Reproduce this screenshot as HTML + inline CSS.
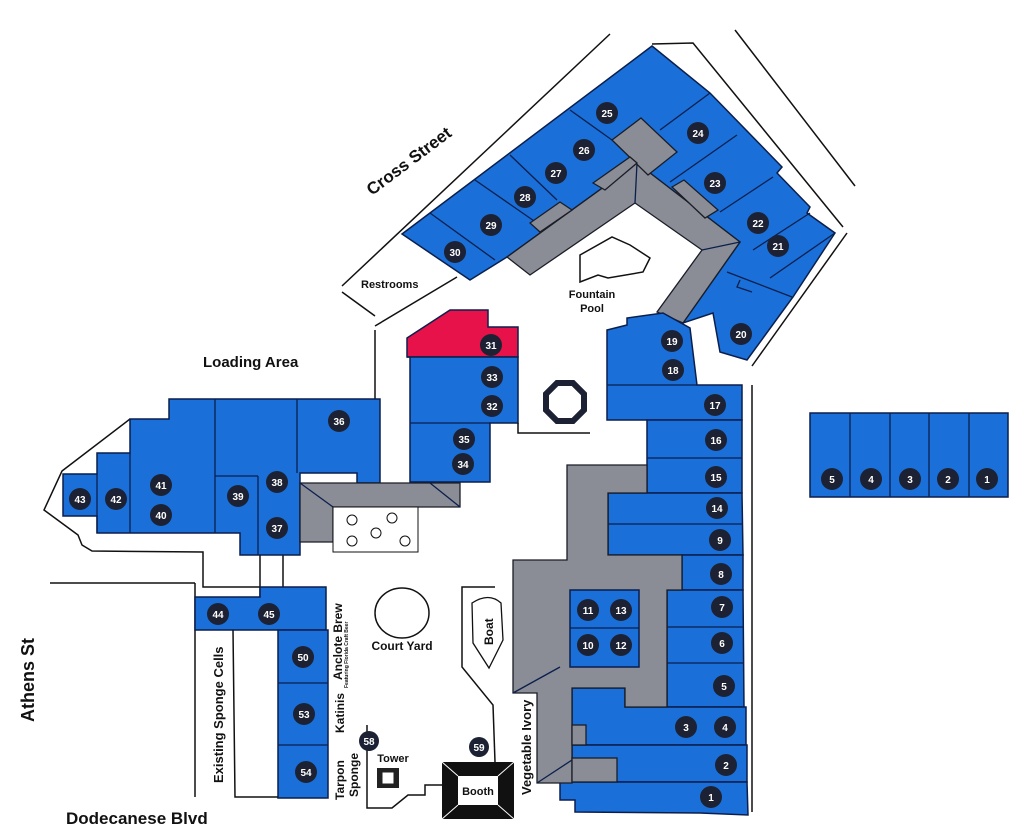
<!DOCTYPE html>
<html><head><meta charset="utf-8"><style>
html,body{margin:0;padding:0;background:#fff;}
svg{display:block;}
text{font-family:"Liberation Sans",Arial,sans-serif;font-weight:bold;}
.b{fill:#1a6fd8;stroke:#0b1f4d;stroke-width:1.5;}
.g{fill:#8a8d96;stroke:#1a1d26;stroke-width:1.3;}
.l{stroke:#0b1f4d;stroke-width:1.3;fill:none;}
.k{stroke:#111;stroke-width:1.5;fill:none;}
.n circle{fill:#1c2233;}
.n text{fill:#fff;font-size:10px;text-anchor:middle;}
</style></head><body>
<svg width="1024" height="838" viewBox="0 0 1024 838" xmlns="http://www.w3.org/2000/svg">
<rect width="1024" height="838" fill="#fff"/>
<!-- street lines -->
<line class="k" x1="342" y1="286" x2="610" y2="34"/>
<line class="k" x1="735" y1="30" x2="855" y2="186"/>
<polyline class="k" points="652,44 693,43 843,227"/>
<line class="k" x1="847" y1="233" x2="752" y2="366"/>
<polyline class="k" points="342,292 375,316"/>
<line class="k" x1="375" y1="326" x2="457" y2="277"/>
<line class="k" x1="752" y1="385" x2="752" y2="812"/>
<polyline class="k" points="375,330 375,480"/>
<!-- top building -->
<polygon class="b" points="402,234 652,46 710,93 782,167 777,173 810,207 807,213 835,233 793,297 747,360 720,352 713,313 683,323 740,242 637,163 507,257 470,280"/>
<g class="l">
<line x1="430" y1="213" x2="495" y2="260"/>
<line x1="475" y1="180" x2="537" y2="223"/>
<line x1="510" y1="155" x2="557" y2="200"/>
<line x1="570" y1="110" x2="612" y2="140"/>
<line x1="660" y1="130" x2="710" y2="93"/>
<line x1="737" y1="135" x2="670" y2="182"/>
<line x1="773" y1="177" x2="720" y2="212"/>
<line x1="810" y1="213" x2="753" y2="250"/>
<line x1="835" y1="233" x2="770" y2="278"/>
<line x1="727" y1="272" x2="792" y2="297"/>
<polyline points="740,280 737,287 752,292"/>
</g>
<polygon class="g" points="637,163 740,242 683,323 657,312 702,250 635,203 530,275 507,257"/>
<line class="l" x1="637" y1="163" x2="635" y2="203"/>
<line class="l" x1="702" y1="250" x2="740" y2="242"/>
<polygon class="g" points="612,140 641,118 677,152 648,175"/>
<polygon class="g" points="593,183 630,157 637,163 605,190"/>
<polygon class="g" points="530,223 560,202 572,210 540,232"/>
<polygon class="g" points="672,187 684,180 718,210 705,218"/>
<polygon class="k" points="580,255 612,237 630,245 650,258 643,272 608,278 598,275 580,282"/>
<!-- 19/18 -->
<polygon class="b" points="607,330 627,325 627,318 663,313 690,328 697,385 742,385 742,420 607,420"/>
<line class="l" x1="607" y1="385" x2="697" y2="385"/>
<!-- 31-35 -->
<polygon points="407,338 450,310 488,310 488,327 518,327 518,357 407,357" fill="#e8124a" stroke="#0b1f4d" stroke-width="1.5"/>
<polygon class="b" points="407,357 518,357 518,423 490,423 490,482 410,482 410,357"/>
<line class="l" x1="410" y1="423" x2="490" y2="423"/>
<polyline class="k" points="518,423 518,433 590,433"/>
<polygon points="557,383 573,383 584,394 584,410 573,421 557,421 546,410 546,394" fill="none" stroke="#1c2233" stroke-width="6"/>
<!-- right column -->
<polygon class="b" points="647,420 742,420 742,493 647,493"/>
<line class="l" x1="647" y1="458" x2="742" y2="458"/>
<polygon class="b" points="608,493 742,493 743,555 608,555"/>
<line class="l" x1="608" y1="524" x2="742" y2="524"/>
<rect class="b" x="682" y="555" width="61" height="35"/>
<polygon class="b" points="667,590 743,590 744,707 667,707"/>
<line class="l" x1="667" y1="627" x2="743" y2="627"/>
<line class="l" x1="667" y1="663" x2="743" y2="663"/>
<polygon class="b" points="572,688 625,688 625,707 746,707 746,745 572,745"/>
<rect class="b" x="572" y="745" width="175" height="37"/>
<polygon class="b" points="560,782 747,782 748,815 700,813 575,812 575,800 560,800"/>
<polygon class="g" points="567,465 647,465 647,493 608,493 608,555 682,555 682,590 667,590 667,707 625,707 625,688 572,688 572,783 537,783 537,693 513,693 513,560 567,560"/>
<line class="l" x1="513" y1="693" x2="560" y2="667"/>
<line class="l" x1="537" y1="783" x2="572" y2="760"/>
<rect class="g" x="572" y="725" width="14" height="20"/>
<rect class="g" x="572" y="758" width="45" height="24"/>
<rect class="b" x="570" y="590" width="69" height="77"/>
<line class="l" x1="570" y1="628" x2="639" y2="628"/>
<!-- right stores -->
<rect class="b" x="810" y="413" width="198" height="84"/>
<g class="l"><line x1="850" y1="413" x2="850" y2="497"/><line x1="890" y1="413" x2="890" y2="497"/><line x1="929" y1="413" x2="929" y2="497"/><line x1="969" y1="413" x2="969" y2="497"/></g>
<!-- left complex outline -->
<polyline class="k" points="130,419 62,471 44,510 78,535 82,545 92,551 203,552 203,587 260,587"/>
<line class="k" x1="260" y1="555" x2="260" y2="597"/>
<line class="k" x1="283" y1="555" x2="283" y2="587"/>
<polygon class="b" points="169,399 380,399 380,483 357,483 357,473 300,473 300,555 240,555 240,533 97,533 97,516 63,516 63,474 97,474 97,453 130,453 130,419 169,419"/>
<g class="l">
<line x1="215" y1="399" x2="215" y2="533"/>
<line x1="258" y1="476" x2="258" y2="555"/>
<line x1="215" y1="476" x2="258" y2="476"/>
<line x1="297" y1="399" x2="297" y2="473"/>
<line x1="130" y1="453" x2="130" y2="533"/>
<line x1="97" y1="474" x2="97" y2="533"/>
</g>
<polygon class="g" points="300,483 460,483 460,507 333,507 333,542 300,542"/>
<line class="l" x1="300" y1="483" x2="333" y2="507"/>
<line class="l" x1="430" y1="483" x2="460" y2="507"/>
<rect x="333" y="507" width="85" height="45" fill="#fff" stroke="#111" stroke-width="1"/>
<g fill="none" stroke="#111" stroke-width="1">
<circle cx="352" cy="520" r="5"/><circle cx="392" cy="518" r="5"/><circle cx="376" cy="533" r="5"/><circle cx="352" cy="541" r="5"/><circle cx="405" cy="541" r="5"/>
</g>
<!-- 44-54 -->
<line class="k" x1="50" y1="583" x2="195" y2="583"/>
<polyline class="k" points="195,583 195,797"/>
<polygon class="b" points="195,597 260,597 260,587 326,587 326,630 195,630"/>
<rect class="b" x="278" y="630" width="50" height="168"/>
<line class="l" x1="278" y1="683" x2="328" y2="683"/>
<line class="l" x1="278" y1="745" x2="328" y2="745"/>
<polyline class="k" points="233,630 235,797 278,797"/>
<!-- courtyard etc -->
<ellipse cx="402" cy="613" rx="27" ry="25" fill="none" stroke="#111" stroke-width="1.5"/>
<polyline class="k" points="495,587 462,587 462,667 493,705 495,762"/>
<path d="M472,603 Q489,592 501,603 L503,640 L489,668 L473,643 Z" fill="none" stroke="#111" stroke-width="1.3"/>
<polyline class="k" points="367,725 367,808 392,808 408,795 425,795 425,785 442,785"/>
<rect x="377" y="768" width="22" height="20" fill="#222"/><rect x="382" y="772" width="12" height="12" fill="#fff" stroke="#222"/>
<rect x="442" y="762" width="72" height="57" fill="#111"/>
<rect x="458" y="776" width="40" height="29" fill="#fff"/>
<g stroke="#fff" stroke-width="1"><line x1="442" y1="762" x2="458" y2="776"/><line x1="514" y1="762" x2="498" y2="776"/><line x1="442" y1="819" x2="458" y2="805"/><line x1="514" y1="819" x2="498" y2="805"/></g>
<!-- labels -->
<text x="0" y="0" font-size="17" fill="#111" transform="translate(372,196) rotate(-37)">Cross Street</text>
<text x="361" y="288" font-size="11" fill="#111">Restrooms</text>
<text x="592" y="298" font-size="11" fill="#111" text-anchor="middle">Fountain</text>
<text x="592" y="312" font-size="11" fill="#111" text-anchor="middle">Pool</text>
<text x="203" y="367" font-size="15" fill="#111">Loading Area</text>
<text font-size="18" fill="#111" transform="translate(34,722) rotate(-90)">Athens St</text>
<text x="66" y="824" font-size="17" fill="#111">Dodecanese Blvd</text>
<text x="402" y="650" font-size="12" fill="#111" text-anchor="middle">Court Yard</text>
<text font-size="12" fill="#111" transform="translate(493,645) rotate(-90)">Boat</text>
<text font-size="13" fill="#111" transform="translate(223,783) rotate(-90)">Existing Sponge Cells</text>
<text font-size="12" fill="#111" transform="translate(342,680) rotate(-90)">Anclote Brew</text>
<text font-size="5" fill="#111" transform="translate(348,688) rotate(-90)">Featuring Florida Craft Beer</text>
<text font-size="12" fill="#111" transform="translate(344,733) rotate(-90)">Katinis</text>
<text font-size="12" fill="#111" transform="translate(344,800) rotate(-90)">Tarpon</text>
<text font-size="12" fill="#111" transform="translate(358,797) rotate(-90)">Sponge</text>
<text x="393" y="762" font-size="11" fill="#111" text-anchor="middle">Tower</text>
<text x="478" y="795" font-size="11" fill="#111" text-anchor="middle">Booth</text>
<text font-size="13" fill="#111" transform="translate(531,795) rotate(-90)">Vegetable Ivory</text>
<!-- number badges -->
<g class="n">
<circle cx="607" cy="113" r="11"/><text x="607" y="117">25</text>
<circle cx="584" cy="150" r="11"/><text x="584" y="154">26</text>
<circle cx="556" cy="173" r="11"/><text x="556" y="177">27</text>
<circle cx="525" cy="197" r="11"/><text x="525" y="201">28</text>
<circle cx="491" cy="225" r="11"/><text x="491" y="229">29</text>
<circle cx="455" cy="252" r="11"/><text x="455" y="256">30</text>
<circle cx="698" cy="133" r="11"/><text x="698" y="137">24</text>
<circle cx="715" cy="183" r="11"/><text x="715" y="187">23</text>
<circle cx="758" cy="223" r="11"/><text x="758" y="227">22</text>
<circle cx="778" cy="246" r="11"/><text x="778" y="250">21</text>
<circle cx="741" cy="334" r="11"/><text x="741" y="338">20</text>
<circle cx="672" cy="341" r="11"/><text x="672" y="345">19</text>
<circle cx="673" cy="370" r="11"/><text x="673" y="374">18</text>
<circle cx="715" cy="405" r="11"/><text x="715" y="409">17</text>
<circle cx="716" cy="440" r="11"/><text x="716" y="444">16</text>
<circle cx="716" cy="477" r="11"/><text x="716" y="481">15</text>
<circle cx="717" cy="508" r="11"/><text x="717" y="512">14</text>
<circle cx="720" cy="540" r="11"/><text x="720" y="544">9</text>
<circle cx="721" cy="574" r="11"/><text x="721" y="578">8</text>
<circle cx="722" cy="607" r="11"/><text x="722" y="611">7</text>
<circle cx="722" cy="643" r="11"/><text x="722" y="647">6</text>
<circle cx="724" cy="686" r="11"/><text x="724" y="690">5</text>
<circle cx="725" cy="727" r="11"/><text x="725" y="731">4</text>
<circle cx="686" cy="727" r="11"/><text x="686" y="731">3</text>
<circle cx="726" cy="765" r="11"/><text x="726" y="769">2</text>
<circle cx="711" cy="797" r="11"/><text x="711" y="801">1</text>
<circle cx="588" cy="610" r="11"/><text x="588" y="614">11</text>
<circle cx="621" cy="610" r="11"/><text x="621" y="614">13</text>
<circle cx="588" cy="645" r="11"/><text x="588" y="649">10</text>
<circle cx="621" cy="645" r="11"/><text x="621" y="649">12</text>
<circle cx="491" cy="345" r="11"/><text x="491" y="349">31</text>
<circle cx="492" cy="377" r="11"/><text x="492" y="381">33</text>
<circle cx="492" cy="406" r="11"/><text x="492" y="410">32</text>
<circle cx="464" cy="439" r="11"/><text x="464" y="443">35</text>
<circle cx="463" cy="464" r="11"/><text x="463" y="468">34</text>
<circle cx="339" cy="421" r="11"/><text x="339" y="425">36</text>
<circle cx="277" cy="482" r="11"/><text x="277" y="486">38</text>
<circle cx="277" cy="528" r="11"/><text x="277" y="532">37</text>
<circle cx="238" cy="496" r="11"/><text x="238" y="500">39</text>
<circle cx="161" cy="485" r="11"/><text x="161" y="489">41</text>
<circle cx="161" cy="515" r="11"/><text x="161" y="519">40</text>
<circle cx="116" cy="499" r="11"/><text x="116" y="503">42</text>
<circle cx="80" cy="499" r="11"/><text x="80" y="503">43</text>
<circle cx="218" cy="614" r="11"/><text x="218" y="618">44</text>
<circle cx="269" cy="614" r="11"/><text x="269" y="618">45</text>
<circle cx="303" cy="657" r="11"/><text x="303" y="661">50</text>
<circle cx="304" cy="714" r="11"/><text x="304" y="718">53</text>
<circle cx="306" cy="772" r="11"/><text x="306" y="776">54</text>
<circle cx="369" cy="741" r="10"/><text x="369" y="745">58</text>
<circle cx="479" cy="747" r="10"/><text x="479" y="751">59</text>
<circle cx="832" cy="479" r="11"/><text x="832" y="483">5</text>
<circle cx="871" cy="479" r="11"/><text x="871" y="483">4</text>
<circle cx="910" cy="479" r="11"/><text x="910" y="483">3</text>
<circle cx="948" cy="479" r="11"/><text x="948" y="483">2</text>
<circle cx="987" cy="479" r="11"/><text x="987" y="483">1</text>
</g>
</svg>
</body></html>
